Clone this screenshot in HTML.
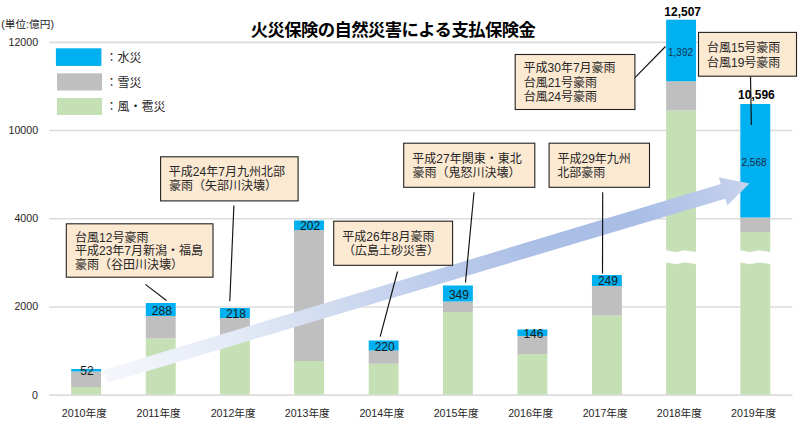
<!DOCTYPE html>
<html lang="ja">
<head>
<meta charset="utf-8">
<title>火災保険の自然災害による支払保険金</title>
<style>
html,body{margin:0;padding:0;background:#fff;}
body{width:800px;height:433px;overflow:hidden;font-family:"Liberation Sans","Noto Sans CJK JP",sans-serif;}
svg{display:block;}
.t{font-family:"Liberation Sans","Noto Sans CJK JP",sans-serif;stroke:none;}
</style>
</head>
<body>
<svg width="800" height="433" viewBox="0 0 800 433" role="img" aria-label="火災保険の自然災害による支払保険金">
<defs>
<linearGradient id="ag" gradientUnits="userSpaceOnUse" x1="0" y1="0" x2="672.59" y2="0">
<stop offset="0" stop-color="#f5f7fc"/>
<stop offset="0.2" stop-color="#e4eaf6"/>
<stop offset="0.45" stop-color="#c4d2ed"/>
<stop offset="0.65" stop-color="#acc0e6"/>
<stop offset="0.82" stop-color="#a9bde5"/>
<stop offset="0.93" stop-color="#b9c9e9"/>
<stop offset="1" stop-color="#c9d5ee"/>
</linearGradient>
</defs>
<rect width="800" height="433" fill="#fff"/>
<line x1="49.0" y1="42.4" x2="792.5" y2="42.4" stroke="#dcdcdc" stroke-width="1.6"/>
<line x1="49.0" y1="130.5" x2="792.5" y2="130.5" stroke="#dcdcdc" stroke-width="1.6"/>
<line x1="49.0" y1="218.8" x2="792.5" y2="218.8" stroke="#dcdcdc" stroke-width="1.6"/>
<line x1="49.0" y1="307.0" x2="792.5" y2="307.0" stroke="#dcdcdc" stroke-width="1.6"/>
<line x1="49.0" y1="395.1" x2="792.5" y2="395.1" stroke="#dcdcdc" stroke-width="1.6"/>
<rect x="71.15" y="387" width="29.9" height="7.5" fill="#c5e0b4"/>
<rect x="71.15" y="371.5" width="29.9" height="15.5" fill="#bfbfbf"/>
<rect x="71.15" y="369" width="29.9" height="2.5" fill="#00b0f0"/>
<rect x="145.8" y="338.5" width="29.9" height="56" fill="#c5e0b4"/>
<rect x="145.8" y="316" width="29.9" height="22.5" fill="#bfbfbf"/>
<rect x="145.8" y="303" width="29.9" height="13" fill="#00b0f0"/>
<rect x="219.95" y="340" width="29.9" height="54.5" fill="#c5e0b4"/>
<rect x="219.95" y="318" width="29.9" height="22" fill="#bfbfbf"/>
<rect x="219.95" y="308" width="29.9" height="10" fill="#00b0f0"/>
<rect x="294.05" y="361" width="29.9" height="33.5" fill="#c5e0b4"/>
<rect x="294.05" y="230" width="29.9" height="131" fill="#bfbfbf"/>
<rect x="294.05" y="220.5" width="29.9" height="9.5" fill="#00b0f0"/>
<rect x="368.7" y="363.8" width="29.9" height="30.7" fill="#c5e0b4"/>
<rect x="368.7" y="350.5" width="29.9" height="13.3" fill="#bfbfbf"/>
<rect x="368.7" y="340.5" width="29.9" height="10" fill="#00b0f0"/>
<rect x="442.95" y="312" width="29.9" height="82.5" fill="#c5e0b4"/>
<rect x="442.95" y="301.5" width="29.9" height="10.5" fill="#bfbfbf"/>
<rect x="442.95" y="285.5" width="29.9" height="16" fill="#00b0f0"/>
<rect x="517.45" y="354" width="29.9" height="40.5" fill="#c5e0b4"/>
<rect x="517.45" y="336" width="29.9" height="18" fill="#bfbfbf"/>
<rect x="517.45" y="329.5" width="29.9" height="6.5" fill="#00b0f0"/>
<rect x="591.95" y="315.5" width="29.9" height="79" fill="#c5e0b4"/>
<rect x="591.95" y="286" width="29.9" height="29.5" fill="#bfbfbf"/>
<rect x="591.95" y="275" width="29.9" height="11" fill="#00b0f0"/>
<rect x="666.15" y="110.5" width="29.9" height="284" fill="#c5e0b4"/>
<rect x="666.15" y="81.25" width="29.9" height="29.25" fill="#bfbfbf"/>
<rect x="666.15" y="19.7" width="29.9" height="61.55" fill="#00b0f0"/>
<rect x="740.35" y="232" width="29.9" height="162.5" fill="#c5e0b4"/>
<rect x="740.35" y="217.5" width="29.9" height="14.5" fill="#bfbfbf"/>
<rect x="740.35" y="104" width="29.9" height="113.5" fill="#00b0f0"/>
<path d="M665.55,250.7 C670.21,250.9 673.33,252.3 675.81,252.3 C678.61,252.3 681.72,250.7 684.21,250.7 C687.94,250.7 693.54,252.1 696.65,252.3 L696.65,263.8 C693.54,263.6 687.94,262.2 684.21,262.2 C681.72,262.2 678.61,263.8 675.81,263.8 C673.33,263.8 670.21,262.4 665.55,262.2Z" fill="#fff" stroke="#fff" stroke-width="0.6" stroke-linejoin="round"/>
<path d="M739.75,250.7 C744.41,250.9 747.52,252.3 750.01,252.3 C752.81,252.3 755.92,250.7 758.41,250.7 C762.14,250.7 767.74,252.1 770.85,252.3 L770.85,263.8 C767.74,263.6 762.14,262.2 758.41,262.2 C755.92,262.2 752.81,263.8 750.01,263.8 C747.52,263.8 744.41,262.4 739.75,262.2Z" fill="#fff" stroke="#fff" stroke-width="0.6" stroke-linejoin="round"/>
<rect x="55.9" y="48.3" width="45.5" height="17.6" fill="#00b0f0"/>
<rect x="57" y="73.3" width="45.1" height="17.2" fill="#bfbfbf"/>
<rect x="57" y="97.9" width="45.1" height="17.1" fill="#c5e0b4"/>
<text x="105.5" y="61.5" font-size="12" fill="#262626" class="t">：水災</text>
<text x="105.5" y="86.75" font-size="12" fill="#262626" class="t">：雪災</text>
<text x="105.5" y="111.48" font-size="12" fill="#262626" class="t">：風・雹災</text>
<text x="1.25" y="27.96" font-size="10.67" fill="#262626" class="t">(単位:億円)</text>
<text x="8.5" y="45.82" font-size="10.67" fill="#262626" class="t">12000</text>
<text x="8.5" y="133.92" font-size="10.67" fill="#262626" class="t">10000</text>
<text x="14.4" y="222.22" font-size="10.67" fill="#262626" class="t">4000</text>
<text x="14.4" y="310.42" font-size="10.67" fill="#262626" class="t">2000</text>
<text x="32.1" y="398.52" font-size="10.67" fill="#262626" class="t">0</text>
<text x="250.75" y="36.36" font-size="17.33" font-weight="bold" fill="#000" textLength="285" lengthAdjust="spacing" class="t">火災保険の自然災害による支払保険金</text>
<polygon transform="translate(105.2,376.5) rotate(-16.68)" fill="url(#ag)" points="0,-6.8 644.99,-7.7 644.99,-14.8 672.59,0 644.99,14.8 644.99,7.7 0,6.8"/>
<text x="80.3" y="375.36" font-size="12" fill="#1a1a1a" class="t">52</text>
<text x="151.8" y="314.81" font-size="12" fill="#1a1a1a" class="t">288</text>
<text x="225.95" y="317.81" font-size="12" fill="#1a1a1a" class="t">218</text>
<text x="300.05" y="230.06" font-size="12" fill="#1a1a1a" class="t">202</text>
<text x="374.7" y="350.56" font-size="12" fill="#1a1a1a" class="t">220</text>
<text x="448.95" y="298.56" font-size="12" fill="#1a1a1a" class="t">349</text>
<text x="523.45" y="338.06" font-size="12" fill="#1a1a1a" class="t">146</text>
<text x="597.95" y="285.31" font-size="12" fill="#1a1a1a" class="t">249</text>
<text x="668" y="55.66" font-size="10" fill="#0f3050" class="t">1,392</text>
<text x="741.5" y="165.85" font-size="10" fill="#14283c" class="t">2,568</text>
<text x="664.3" y="15.5" font-size="12" font-weight="bold" fill="#000" class="t">12,507</text>
<text x="738.1" y="99.1" font-size="12" font-weight="bold" fill="#000" class="t">10,596</text>
<text x="61.85" y="416.78" font-size="10.67" fill="#262626" class="t">2010年度</text>
<text x="136.5" y="416.78" font-size="10.67" fill="#262626" class="t">2011年度</text>
<text x="210.65" y="416.78" font-size="10.67" fill="#262626" class="t">2012年度</text>
<text x="284.75" y="416.78" font-size="10.67" fill="#262626" class="t">2013年度</text>
<text x="359.4" y="416.78" font-size="10.67" fill="#262626" class="t">2014年度</text>
<text x="433.65" y="416.78" font-size="10.67" fill="#262626" class="t">2015年度</text>
<text x="508.15" y="416.78" font-size="10.67" fill="#262626" class="t">2016年度</text>
<text x="582.65" y="416.78" font-size="10.67" fill="#262626" class="t">2017年度</text>
<text x="656.85" y="416.78" font-size="10.67" fill="#262626" class="t">2018年度</text>
<text x="731.05" y="416.78" font-size="10.67" fill="#262626" class="t">2019年度</text>
<line x1="145.4" y1="284.4" x2="166.4" y2="300.5" stroke="#111" stroke-width="1.15"/>
<line x1="233.9" y1="205.5" x2="229.8" y2="301.2" stroke="#111" stroke-width="1.15"/>
<line x1="397.5" y1="271.5" x2="380.2" y2="336.6" stroke="#111" stroke-width="1.15"/>
<line x1="474.0" y1="192.2" x2="465.5" y2="282.5" stroke="#111" stroke-width="1.15"/>
<line x1="602.7" y1="192.2" x2="602.5" y2="273.5" stroke="#111" stroke-width="1.15"/>
<line x1="634.2" y1="78.4" x2="665.5" y2="46.5" stroke="#111" stroke-width="1.15"/>
<line x1="750.5" y1="76.4" x2="751.4" y2="125.0" stroke="#111" stroke-width="1.15"/>
<rect x="66.3" y="223.8" width="146.7" height="53.4" fill="#fce9d2" stroke="#222" stroke-width="1.1"/>
<text x="75.1" y="241.63" font-size="12" fill="#262626" class="t">台風12号豪雨</text>
<text x="74.96" y="255.3" font-size="12" fill="#262626" class="t">平成23年7月新潟・福島</text>
<text x="75.05" y="268.98" font-size="12" fill="#262626" class="t">豪雨（谷田川決壊）</text>
<rect x="160.6" y="156.8" width="137.5" height="44.1" fill="#fce9d2" stroke="#222" stroke-width="1.1"/>
<text x="168.86" y="176.1" font-size="12" fill="#262626" class="t">平成24年7月九州北部</text>
<text x="168.95" y="189.8" font-size="12" fill="#262626" class="t">豪雨（矢部川決壊）</text>
<rect x="333.7" y="221.2" width="118.9" height="44.1" fill="#fce9d2" stroke="#222" stroke-width="1.1"/>
<text x="342.36" y="241.3" font-size="12" fill="#262626" class="t">平成26年8月豪雨</text>
<text x="343" y="255.22" font-size="12" fill="#262626" class="t">（広島土砂災害）</text>
<rect x="403.7" y="143.2" width="131.1" height="44.1" fill="#fce9d2" stroke="#222" stroke-width="1.1"/>
<text x="412.36" y="163.3" font-size="12" fill="#262626" class="t">平成27年関東・東北</text>
<text x="412.45" y="177.01" font-size="12" fill="#262626" class="t">豪雨（鬼怒川決壊）</text>
<rect x="549.1" y="143.2" width="100.4" height="44.1" fill="#fce9d2" stroke="#222" stroke-width="1.1"/>
<text x="557.46" y="163.3" font-size="12" fill="#262626" class="t">平成29年九州</text>
<text x="557.23" y="177.01" font-size="12" fill="#262626" class="t">北部豪雨</text>
<rect x="515.2" y="54.5" width="119.7" height="55" fill="#fce9d2" stroke="#222" stroke-width="1.1"/>
<text x="523.56" y="72.2" font-size="12" fill="#262626" class="t">平成30年7月豪雨</text>
<text x="523.7" y="86.63" font-size="12" fill="#262626" class="t">台風21号豪雨</text>
<text x="523.7" y="101.03" font-size="12" fill="#262626" class="t">台風24号豪雨</text>
<rect x="698.5" y="32.4" width="98" height="43.8" fill="#fce9d2" stroke="#222" stroke-width="1.1"/>
<text x="707" y="52.43" font-size="12" fill="#262626" class="t">台風15号豪雨</text>
<text x="707" y="66.93" font-size="12" fill="#262626" class="t">台風19号豪雨</text>
</svg>
</body>
</html>
